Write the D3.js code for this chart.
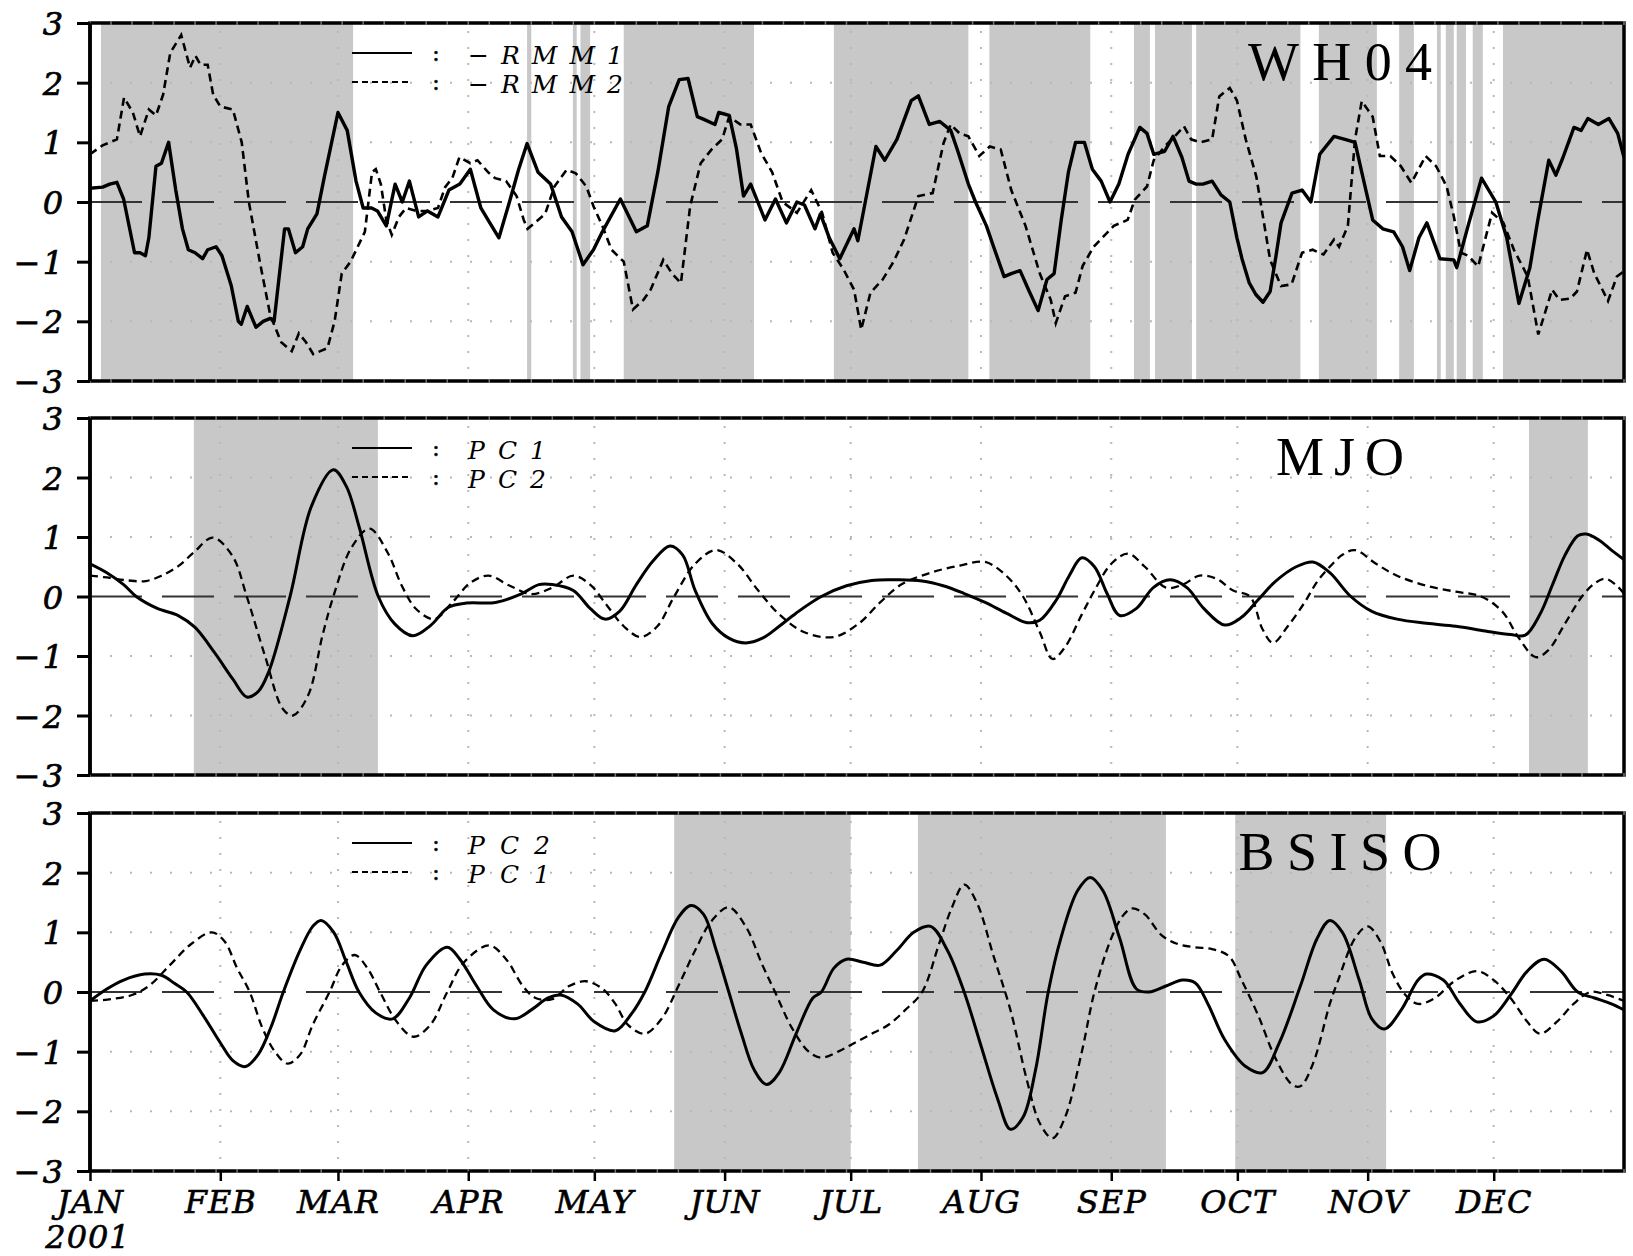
<!DOCTYPE html>
<html>
<head>
<meta charset="utf-8">
<script src="https://cdn.jsdelivr.net/npm/d3@7"></script>
<style>
  body { margin: 0; background: #fff; }
  text { fill: #000; }
</style>
</head>
<body>
<svg id="chart" width="1633" height="1256"></svg>
<script>
// ---- data (day of year 2001, value) ----
var monthLabels = ["JAN","FEB","MAR","APR","MAY","JUN","JUL","AUG","SEP","OCT","NOV","DEC"];
var yTicks = [-3,-2,-1,0,1,2,3];

// WH04 : -RMM1 (solid), -RMM2 (dashed)
var rmm1 = [[0,0.23],[3,0.25],[4.7,0.3],[6.4,0.33],[8,0.05],[10.6,-0.85],[11.9,-0.85],[13.2,-0.9],[14,-0.6],[15.7,0.6],[17,0.65],[18.7,1.0],[20.4,0.2],[22,-0.45],[23.4,-0.8],[25,-0.85],[26.8,-0.95],[28,-0.8],[30,-0.75],[31.4,-0.9],[33.6,-1.4],[35.3,-2.0],[36,-2.05],[37.4,-1.75],[39.5,-2.1],[41.2,-2.0],[42.9,-1.95],[43.8,-2.0],[46.3,-0.45],[47.2,-0.45],[48.9,-0.85],[50.6,-0.75],[51.8,-0.45],[54,-0.2],[55.7,0.4],[59,1.5],[61.2,1.2],[63.3,0.35],[65,-0.1],[67,-0.1],[68.4,-0.15],[70.5,-0.4],[72.6,0.3],[74.3,0],[76,0.35],[78.2,-0.25],[80.3,-0.15],[82.8,-0.25],[85.4,0.2],[88,0.3],[90.5,0.55],[93,-0.1],[94.7,-0.3],[97.3,-0.6],[99.8,0],[102,0.55],[104,0.98],[106.6,0.5],
  [109.6,0.3],[112.2,-0.25],[114.7,-0.5],[117.3,-1.05],[119.8,-0.8],[121.9,-0.5],[126.2,0.05],[130,-0.5],[132.6,-0.4],[135.1,0.5],[137.7,1.6],[140.2,2.05],[142.3,2.07],[144.5,1.43],[146.2,1.38],[148.7,1.3],[149.6,1.5],[152.1,1.45],[153.8,0.9],[155.5,0.1],[157.2,0.3],[160.6,-0.3],[163.1,0.05],[165.7,-0.35],[168.2,0],[170,-0.05],[172.5,-0.45],[173.8,-0.2],[175.9,-0.6],[178.4,-0.95],[180.1,-0.7],[181.8,-0.45],[182.7,-0.65],[187,0.93],[189.1,0.7],[192,1.05],[195.4,1.7],[197.1,1.78],[199.7,1.3],[202.2,1.35],[204.8,1.2],[206.5,0.85],[209,0.3],[210.7,0],[213.3,-0.4],[215,-0.75],[217.5,-1.25],[219.2,-1.2],[221.3,-1.15],[223.5,-1.5],[225.6,-1.82],[227.7,-1.3],[229.4,-1.2],[231.1,-0.3],[232.8,0.5],[234.5,1.0],[236.6,1.0],
  [238.5,0.55],[240.6,0.35],[242.7,0],[244.8,0.3],[247,0.8],[249.8,1.25],[251.5,1.15],[253.1,0.8],[255.7,0.85],[257.7,1.1],[259.8,0.75],[261.5,0.35],[263.2,0.3],[264.8,0.3],[267,0.35],[269.1,0.12],[271.2,0],[272.9,-0.6],[274.1,-0.95],[275.8,-1.35],[277.4,-1.55],[279.1,-1.68],[280.8,-1.5],[282.2,-0.9],[283.4,-0.35],[286,0.15],[288.4,0.2],[290.5,0],[292.6,0.8],[296,1.1],[298.6,1.05],[301,1.0],[302.6,0.5],[305.2,-0.3],[307.6,-0.45],[310.2,-0.5],[312.3,-0.75],[314,-1.15],[316.2,-0.6],[318.1,-0.35],[321.2,-0.95],[324.5,-0.97],[325.2,-1.1],[327.9,-0.4],[331.1,0.4],[334.5,0],[337.1,-0.6],[340,-1.7],[342.6,-1.1],[344.5,-0.3],[347.1,0.7],[348.8,0.45],[350.5,0.75],[353.1,1.25],[354.8,1.2],[356.4,1.4],[358.9,1.3],[361.4,1.4],[363.5,1.15],[365,0.75]];

var rmm2 = [[0,0.8],[3,0.95],[6.4,1.05],[8.1,1.75],[10.2,1.5],[11.9,1.1],[14,1.55],[15.7,1.45],[17.4,1.8],[19.1,2.5],[21.7,2.8],[23.8,2.25],[25.1,2.45],[26.3,2.3],[28,2.3],[29.3,1.8],[31,1.6],[34,1.55],[36.1,1.0],[37.8,0],[40.4,-1.0],[42.9,-1.9],[45.5,-2.35],[48,-2.5],[49.7,-2.2],[51.4,-2.35],[53.1,-2.55],[54.8,-2.5],[56.5,-2.45],[58.2,-2.0],[59.9,-1.2],[62,-1.0],[63.7,-0.75],[65.4,-0.5],[67.1,0.5],[68,0.55],[69.2,0.3],[70.5,-0.3],[71.8,-0.55],[73.5,-0.25],[75.2,-0.1],[77.7,-0.15],[80.3,-0.15],[82.8,-0.1],[84.5,0.25],[86.2,0.4],[87.9,0.75],[90.5,0.65],[92.2,0.7],[94.7,0.5],[96.4,0.4],[99,0.35],[101.5,0.1],[103.2,-0.3],[104.1,-0.45],[105.8,-0.35],[108.3,-0.2],
  [110.5,0.26],[113.4,0.54],[115.6,0.48],[118.1,0.26],[119.8,-0.07],[121.9,-0.4],[124.1,-0.8],[127,-1.0],[129.2,-1.8],[131.7,-1.64],[133.4,-1.47],[136.4,-0.97],[138.5,-1.2],[140.6,-1.36],[142.8,-0.07],[145.3,0.65],[147.9,0.88],[150.4,1.05],[152.1,1.43],[154.7,1.3],[157.2,1.3],[159.7,0.82],[162.3,0.5],[164.8,0],[168.2,-0.18],[171.6,0.2],[174.2,-0.18],[176.7,-0.85],[179.3,-1.13],[181.8,-1.47],[183.5,-2.14],[185.7,-1.52],[188.6,-1.3],[191.2,-1.0],[193.7,-0.63],[197.1,0.1],[200.5,0.15],[203.1,0.99],[204.8,1.3],[206.9,1.15],[209,1.1],[211.6,0.77],[214.1,0.93],[216.7,0.88],[219.2,0.2],[222.6,-0.4],[226,-1.2],[228.6,-1.64],[229.8,-2.03],[232,-1.58],[234.5,-1.52],[236.2,-1.07],[238.8,-0.75],
  [243.6,-0.4],[246.9,-0.3],[248.6,0.04],[251.5,0.26],[253.1,0.7],[255.7,0.93],[258.1,1.1],[260.3,1.27],[262,1.05],[264.1,1.0],[267,1.05],[268.7,1.77],[271.2,1.91],[272.9,1.7],[275,1.05],[277.5,0.43],[280.8,-0.97],[283.4,-1.41],[285.9,-1.38],[288.4,-0.85],[290.9,-0.8],[293.5,-0.88],[296,-0.63],[297.2,-0.75],[299.3,-0.4],[301,1.05],[302.6,1.69],[305.2,1.43],[306.9,0.77],[309.4,0.77],[311.9,0.6],[314.4,0.32],[317.8,0.77],[320.3,0.6],[322.8,0.26],[324.5,-0.24],[326.2,-0.85],[327.9,-0.9],[330.3,-1.08],[333.6,-0.18],[336.3,-0.35],[338.8,-0.8],[342.1,-1.25],[344.6,-2.22],[347.9,-1.47],[349.6,-1.64],[352.2,-1.62],[353.8,-1.5],[356.2,-0.8],[357.9,-1.19],[361.2,-1.66],[363.3,-1.25],[365,-1.16]];

var wh04Shade = [[2.6,62.6],[104,105],[114.9,115.8],[116.7,119],[127,158],[177,209],[214,238],[248.4,252.2],[253.4,262.2],[263.2,288],[292.4,306.2],[311.5,315],[320.5,321.4],[322.6,324.5],[325.2,327.4],[329,331.4],[336.2,365]];

// MJO : PC1 (solid), PC2 (dashed)
var mjoPc1 = [[0,0.55],[4,0.4],[8,0.2],[11,0],[16,-0.2],[21,-0.32],[25,-0.52],[29.6,-0.94],[34,-1.39],[37.3,-1.69],[40,-1.6],[42.5,-1.27],[47.6,0],[52.7,1.52],[57.9,2.13],[61,1.85],[64,1.18],[68.6,0],[72.5,-0.46],[76.8,-0.66],[81,-0.49],[85.3,-0.18],[89.6,-0.11],[96.5,-0.1],[102.5,0.04],[106.8,0.2],[110,0.2],[115,0.1],[119,-0.2],[122.5,-0.38],[126,-0.25],[130,0.2],[134,0.6],[138,0.85],[141,0.7],[144,0.1],[148,-0.45],[152,-0.7],[156,-0.78],[160,-0.7],[164,-0.5],[168,-0.28],[174,0],[180,0.18],[186,0.27],[192,0.28],[198,0.26],[203,0.18],[208,0.05],[213,-0.1],[218,-0.28],[223,-0.44],[226,-0.4],[230,-0.05],[233,0.35],[236,0.65],[239,0.5],[242,0.05],[245,-0.32],[249,-0.2],[253,0.15],[257,0.28],[261,0.15],[265,-0.2],[270,-0.48],[274,-0.35],[278,-0.05],[282,0.25],[287,0.5],[291,0.58],[295,0.4],[300,0],[305,-0.25],[311,-0.38],[318,-0.45],[325,-0.5],[332,-0.58],[338,-0.64],[341.5,-0.65],[345,-0.3],[348,0.2],[351,0.7],[354,1.02],[356,1.05],[359,0.95],[362,0.78],[365,0.62]];
var mjoPc2 = [[0,0.35],[4,0.32],[9,0.27],[13.3,0.26],[17,0.35],[21,0.51],[24.7,0.74],[29.2,0.99],[33.9,0.68],[37.3,0],[41.6,-0.99],[45.9,-1.89],[48.3,-2.0],[51.9,-1.66],[55.3,-0.66],[57.9,0],[62.2,0.82],[66.5,1.14],[70.8,0.74],[74.2,0.18],[77.6,-0.21],[81.9,-0.38],[86.2,-0.1],[90.5,0.23],[94.8,0.35],[99.9,0.18],[105,0.04],[110,0.15],[115,0.35],[119,0.2],[123,-0.15],[127,-0.5],[131,-0.68],[135,-0.5],[139,0],[144,0.55],[149,0.78],[154,0.55],[159,0.1],[164,-0.3],[170,-0.6],[177,-0.68],[183,-0.45],[188,-0.1],[193,0.2],[200,0.4],[207,0.52],[213,0.58],[218,0.35],[222,0],[226,-0.6],[229,-1.05],[232,-0.85],[236,-0.3],[239,0.1],[243,0.55],[247,0.72],[251,0.5],[256,0.15],[260,0.2],[264,0.35],[268,0.3],[272,0.1],[276,0],[279,-0.55],[281.5,-0.78],[285,-0.5],[289,-0.1],[292,0.25],[295,0.5],[298,0.7],[301,0.78],[306,0.55],[311,0.35],[318,0.18],[325,0.08],[331,0],[336,-0.25],[340,-0.7],[344,-1.02],[347,-0.9],[351,-0.45],[355,0],[358,0.22],[360.5,0.3],[363,0.2],[365,0.05]];
var mjoShade = [[24.7,68.5],[342.4,356.4]];

// BSISO : PC2 (solid), PC1 (dashed)
var bsisoPc2 = [[0,-0.15],[4,0.05],[8,0.2],[13,0.3],[17,0.28],[20,0.15],[23,0],[27,-0.4],[31,-0.85],[34,-1.15],[37,-1.25],[40,-1.05],[43,-0.6],[46,0],[50,0.7],[53,1.1],[55,1.2],[58,1.0],[61,0.5],[64,0],[68,-0.35],[72,-0.45],[76,-0.1],[80,0.45],[85,0.75],[88,0.55],[92,0.1],[96,-0.3],[101,-0.45],[105,-0.3],[109,-0.1],[112,-0.05],[116,-0.2],[120,-0.5],[125,-0.65],[129,-0.35],[132,0],[136,0.65],[140,1.25],[143,1.45],[146,1.3],[149,0.7],[152,0],[155,-0.7],[158,-1.3],[161,-1.55],[164,-1.35],[168,-0.7],[172,-0.1],[174,0],[177,0.4],[180,0.55],[184,0.5],[188,0.45],[192,0.7],[196,1.0],[200,1.1],[204,0.7],[208,0],[212,-0.9],[216,-1.8],[219,-2.3],[222,-2.1],[225,-1.3],[228,0],[231,0.9],[235,1.7],[238,1.92],[241,1.7],[245,0.9],[249,0.05],[252,0.0],[256,0.1],[260,0.2],[263,0.15],[266,-0.2],[270,-0.8],[275,-1.25],[279,-1.35],[283,-0.85],[288,0.1],[292,0.9],[295,1.2],[298,1.0],[302,0.2],[305,-0.45],[308,-0.62],[312,-0.3],[316,0.2],[318,0.3],[322,0.2],[326,-0.2],[330,-0.5],[334,-0.4],[338,-0.05],[342,0.35],[346,0.55],[350,0.35],[354,0.0],[358,-0.1],[362,-0.2],[365,-0.3]];
var bsisoPc1 = [[0,-0.15],[5,-0.12],[10,-0.05],[14,0.1],[19,0.45],[24,0.8],[29,1.0],[32,0.85],[35,0.4],[38,0],[41,-0.6],[44,-1.0],[47,-1.2],[50,-1.05],[53,-0.55],[57,0],[60,0.45],[63,0.62],[66,0.4],[69,0],[73,-0.5],[77,-0.75],[81,-0.55],[85,0],[89,0.5],[95,0.78],[99,0.55],[103,0.1],[106,-0.1],[110,-0.12],[114,0.1],[118,0.18],[122,0.05],[125,-0.2],[128,-0.55],[132,-0.7],[136,-0.45],[140,0.1],[144,0.7],[148,1.2],[152,1.42],[156,1.1],[160,0.45],[163,0],[167,-0.6],[171,-1.0],[174,-1.1],[178,-1.0],[182,-0.85],[186,-0.7],[190,-0.55],[194,-0.3],[198,0],[202,0.8],[205,1.4],[208,1.8],[211,1.5],[215,0.6],[219,-0.3],[223,-1.5],[226,-2.2],[229,-2.45],[232,-2.1],[236,-1.0],[239,0],[243,0.9],[246,1.3],[248,1.4],[251,1.3],[255,0.95],[259,0.8],[263,0.75],[267,0.72],[271,0.6],[274,0.2],[278,-0.4],[282,-1.1],[286,-1.55],[288,-1.58],[291,-1.2],[295,-0.2],[297,0.2],[301,0.9],[304,1.1],[307,0.85],[310,0.3],[313,-0.05],[316,-0.2],[320,-0.1],[325,0.2],[330,0.35],[334,0.2],[338,-0.1],[342,-0.5],[345,-0.7],[349,-0.5],[353,-0.2],[357,0],[361,-0.05],[365,-0.15]];
var bsisoShade = [[139,181],[197,256],[272.5,308.4]];

// ---- layout ----
var left = 90, right = 1624;
var panels = [
  {title: "WH04",  top: 23,  bottom: 381,  solid: rmm1,     dashed: rmm2,     shade: wh04Shade,  legend: ["\u2212RMM1", "\u2212RMM2"], legendW: 155, titleW: 184, curve: d3.curveLinear, lw: 3.4, dw: 2.6},
  {title: "MJO",   top: 418, bottom: 775,  solid: mjoPc1,   dashed: mjoPc2,   shade: mjoShade,   legend: ["PC1", "PC2"], legendW: 78, titleW: 128, curve: d3.curveCatmullRom, lw: 3, dw: 2.3},
  {title: "BSISO", top: 813, bottom: 1171, solid: bsisoPc2, dashed: bsisoPc1, shade: bsisoShade, legend: ["PC2", "PC1"], legendW: 82, titleW: 203, curve: d3.curveCatmullRom, lw: 3, dw: 2.3}
];

var t0 = Date.UTC(2001, 0, 1);
function toDate(day) { return new Date(t0 + day * 864e5); }

var x = d3.scaleUtc()
  .domain([toDate(0), toDate(365)])
  .range([left, right]);

var months = d3.utcMonth.range(toDate(0), toDate(365));

var svg = d3.select("#chart");
var serif = "'DejaVu Serif', 'Liberation Serif', serif";

panels.forEach(function(p, i) {
  var y = d3.scaleLinear().domain([-3, 3]).range([p.bottom, p.top]);
  var g = svg.append("g");

  g.append("clipPath").attr("id", "clip" + i)
    .append("rect")
      .attr("x", left).attr("y", p.top)
      .attr("width", right - left).attr("height", p.bottom - p.top);

  // grey shading
  g.append("g").selectAll("rect")
    .data(p.shade)
    .enter().append("rect")
      .attr("x", function(d) { return x(toDate(d[0])); })
      .attr("width", function(d) { return x(toDate(d[1])) - x(toDate(d[0])); })
      .attr("y", p.top)
      .attr("height", p.bottom - p.top)
      .style("fill", "#c8c8c8");

  // dotted grid
  g.append("g").selectAll("line")
    .data([-2, -1, 1, 2])
    .enter().append("line")
      .attr("x1", left + 20).attr("x2", right)
      .attr("y1", function(d) { return y(d); })
      .attr("y2", function(d) { return y(d); })
      .style("stroke", "#b8b8b8").style("stroke-width", 2)
      .style("stroke-dasharray", "2,18");
  g.append("g").selectAll("line")
    .data(months.slice(1))
    .enter().append("line")
      .attr("x1", function(d) { return x(d); })
      .attr("x2", function(d) { return x(d); })
      .attr("y1", p.top + 8).attr("y2", p.bottom)
      .style("stroke", "#b8b8b8").style("stroke-width", 2)
      .style("stroke-dasharray", "2,14");

  // zero line
  g.append("line")
    .attr("x1", left).attr("x2", right)
    .attr("y1", y(0)).attr("y2", y(0))
    .style("stroke", "#333").style("stroke-width", 2)
    .style("stroke-dasharray", "52,20");

  var line = d3.line()
    .x(function(d) { return x(toDate(d[0])); })
    .y(function(d) { return y(d[1]); })
    .curve(p.curve);

  g.append("path")
    .datum(p.dashed)
    .attr("clip-path", "url(#clip" + i + ")")
    .attr("d", line)
    .style("fill", "none").style("stroke", "#000")
    .style("stroke-width", p.dw).style("stroke-dasharray", "8,5");

  g.append("path")
    .datum(p.solid)
    .attr("clip-path", "url(#clip" + i + ")")
    .attr("d", line)
    .style("fill", "none").style("stroke", "#000")
    .style("stroke-width", p.lw).style("stroke-linejoin", "round");

  // frame with small ticks on top and bottom
  g.append("rect")
    .attr("x", left).attr("y", p.top)
    .attr("width", right - left).attr("height", p.bottom - p.top)
    .style("fill", "none").style("stroke", "#000").style("stroke-width", 3.5);
  var minor = d3.range(0, 366, 5);
  g.append("g").selectAll("line")
    .data(minor)
    .enter().append("line")
      .attr("x1", function(d) { return x(toDate(d)); })
      .attr("x2", function(d) { return x(toDate(d)); })
      .attr("y1", p.top - 2).attr("y2", p.top + 2)
      .style("stroke", "#777").style("stroke-width", 1.5);
  g.append("g").selectAll("line")
    .data(minor)
    .enter().append("line")
      .attr("x1", function(d) { return x(toDate(d)); })
      .attr("x2", function(d) { return x(toDate(d)); })
      .attr("y1", p.bottom - 2).attr("y2", p.bottom + 2)
      .style("stroke", "#777").style("stroke-width", 1.5);

  // left axis
  var ax = g.append("g")
    .attr("transform", "translate(" + left + ",0)")
    .call(d3.axisLeft(y).tickValues(yTicks).tickSize(13).tickPadding(12)
      .tickFormat(d3.format("d")));
  ax.select(".domain").style("stroke-width", 3.5).attr("d", "M0," + p.top + "V" + p.bottom);
  ax.selectAll(".tick line").style("stroke-width", 3);
  ax.selectAll("text")
    .style("font-family", serif).style("font-style", "italic")
    .style("font-size", "32px").style("letter-spacing", "2px")
    .style("stroke", "#000").style("stroke-width", 0.7)
    .attr("dy", "0.36em");

  // legend
  var ly = [p.top + 30, p.top + 59];
  [0, 1].forEach(function(k) {
    g.append("line")
      .attr("x1", 352).attr("x2", 412)
      .attr("y1", ly[k]).attr("y2", ly[k])
      .style("stroke", "#000")
      .style("stroke-width", 2)
      .style("stroke-dasharray", k === 0 ? null : "6,4");
    g.append("text")
      .attr("x", 436).attr("y", ly[k] + 8)
      .attr("text-anchor", "middle")
      .style("font-family", serif).style("font-size", "22px")
      .style("stroke", "#000").style("stroke-width", 0.5)
      .text(":");
    g.append("text")
      .attr("x", 468).attr("y", ly[k] + 11)
      .attr("textLength", p.legendW).attr("lengthAdjust", "spacing")
      .style("font-family", serif).style("font-style", "italic").style("font-size", "25px")
      .text(p.legend[k]);
  });

  // panel title
  g.append("text")
    .attr("x", 1340).attr("y", p.top + 57)
    .attr("text-anchor", "middle")
    .attr("textLength", p.titleW).attr("lengthAdjust", "spacing")
    .style("font-family", "'Liberation Serif', serif").style("font-size", "54px")
    .text(p.title);

  // month axis under the last panel
  if (i === panels.length - 1) {
    var bx = g.append("g")
      .attr("transform", "translate(0," + p.bottom + ")")
      .call(d3.axisBottom(x).tickValues(months).tickSize(10).tickPadding(9)
        .tickFormat(function(d, j) { return monthLabels[j]; }));
    bx.select(".domain").remove();
    bx.selectAll(".tick line").style("stroke-width", 2.5);
    bx.selectAll("text")
      .style("font-family", serif).style("font-style", "italic")
      .style("font-size", "32px").style("letter-spacing", "1px")
      .style("stroke", "#000").style("stroke-width", 0.6);
    g.append("text")
      .attr("x", 88).attr("y", p.bottom + 77)
      .attr("text-anchor", "middle")
      .style("font-family", serif).style("font-style", "italic").style("font-size", "32px")
      .style("letter-spacing", "1px")
      .style("stroke", "#000").style("stroke-width", 0.6)
      .text("2001");
  }
});
</script>
</body>
</html>
